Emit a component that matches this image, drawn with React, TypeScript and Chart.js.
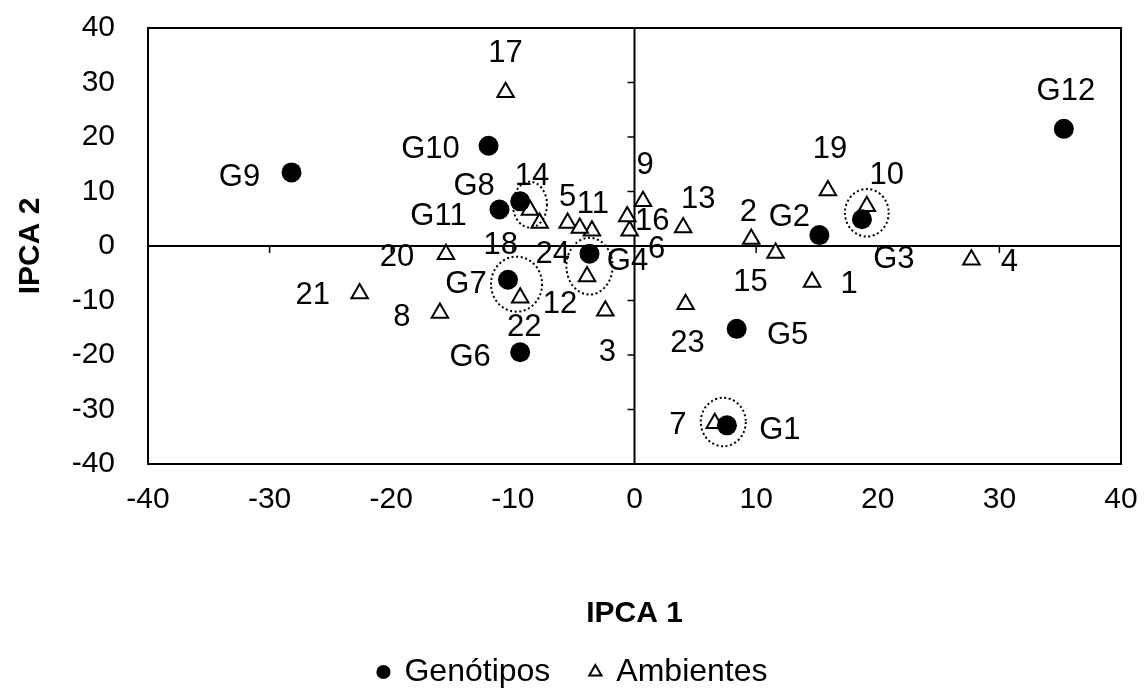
import { useEffect, useRef } from "react";
import { Chart, registerables } from "chart.js";

Chart.register(...registerables);

const FONT = "'Liberation Sans', Arial, Helvetica, sans-serif";

// ---- data ----
const tickValues = [-40, -30, -20, -10, 0, 10, 20, 30, 40];

const genotypeNames = ["G1", "G2", "G3", "G4", "G5", "G6", "G7", "G8", "G9", "G10", "G11", "G12"];
const genotypeIPCA1 = [7.6, 15.2, 18.7, -3.7, 8.4, -9.4, -10.4, -9.4, -28.2, -12.0, -11.1, 35.3];
const genotypeIPCA2 = [-32.9, 2.0, 4.9, -1.4, -15.2, -19.5, -6.2, 8.2, 13.5, 18.4, 6.7, 21.5];

const environmentNames = [
  "1", "2", "3", "4", "5", "6", "7", "8", "9", "10", "11", "12",
  "13", "14", "15", "16", "17", "18", "19", "20", "21", "22", "23", "24",
];
const environmentIPCA1 = [
  14.6, 9.6, -2.4, 27.7, -5.5, -0.4, 6.6, -16.0, 0.7, 19.1, -3.5, -3.9,
  4.0, -8.6, 11.6, -0.6, -10.6, -7.8, 15.9, -15.5, -22.6, -9.4, 4.2, -4.5,
];
const environmentIPCA2 = [
  -6.6, 1.3, -11.9, -2.5, 4.2, 2.8, -32.5, -12.3, 8.2, 7.3, 2.8, -5.6,
  3.4, 6.6, -1.3, 5.4, 28.2, 4.2, 10.2, -1.5, -8.7, -9.5, -10.7, 3.3,
];

// dotted highlight ellipses (data units): centre x, centre y, radius x, radius y
const ellipseX = [-8.6, -9.7, -3.7, 19.1, 7.3];
const ellipseY = [7.6, -7.0, -3.7, 6.1, -32.3];
const ellipseRX = [1.4, 2.1, 1.9, 1.8, 1.85];
const ellipseRY = [4.2, 5.05, 5.2, 4.35, 4.45];

// ---- label placement (pixel offsets from the marker) ----
const LABEL_SHIFT_Y = 3;
const genotypeLabelOffset: [number, number][] = [
  [53, 2], [-30, -21], [32, 37], [38, 5], [51, 4], [-50, 2],
  [-42, 2], [-46, -18], [-52, 2], [-58, 1], [-61, 4], [2, -40],
];
const environmentLabelOffset: [number, number][] = [
  [37, -1], [-3, -29], [2, 39], [38, 0], [0, -29], [27, 16],
  [-37, -1], [-38, 1], [2, -39], [20, -34], [1, -29], [-27, 25],
  [15, -31], [2, -37], [-25, 26], [25, 2], [0, -42], [-39, 19],
  [2, -44], [-49, 0], [-47, -1], [4, 27], [2, 36], [-27, 23],
];

const overlayPlugin = {
  id: "overlay",
  beforeDatasetsDraw(chart: any) {
    const { ctx, chartArea: a, scales } = chart;
    const xs = scales.x;
    const ys = scales.y;
    const x0 = xs.getPixelForValue(0);
    const y0 = ys.getPixelForValue(0);
    ctx.save();
    ctx.strokeStyle = "#000";
    ctx.lineWidth = 2;
    ctx.strokeRect(a.left, a.top, a.right - a.left, a.bottom - a.top);
    ctx.beginPath();
    ctx.moveTo(a.left, y0);
    ctx.lineTo(a.right, y0);
    ctx.moveTo(x0, a.top);
    ctx.lineTo(x0, a.bottom);
    ctx.stroke();
    ctx.lineWidth = 1.5;
    ctx.beginPath();
    for (const v of tickValues) {
      const px = xs.getPixelForValue(v);
      ctx.moveTo(px, y0);
      ctx.lineTo(px, y0 + 7);
      const py = ys.getPixelForValue(v);
      ctx.moveTo(x0 - 7, py);
      ctx.lineTo(x0, py);
    }
    ctx.stroke();
    ctx.restore();
  },
  afterDatasetsDraw(chart: any) {
    const { ctx, scales } = chart;
    const xs = scales.x;
    const ys = scales.y;
    ctx.save();
    // dotted ellipses
    ctx.strokeStyle = "#000";
    ctx.lineWidth = 2;
    ctx.setLineDash([2, 2.6]);
    for (let i = 0; i < ellipseX.length; i++) {
      const cx = xs.getPixelForValue(ellipseX[i]);
      const cy = ys.getPixelForValue(ellipseY[i]);
      const rx = Math.abs(xs.getPixelForValue(ellipseX[i] + ellipseRX[i]) - cx);
      const ry = Math.abs(ys.getPixelForValue(ellipseY[i] + ellipseRY[i]) - cy);
      ctx.beginPath();
      ctx.ellipse(cx, cy, rx, ry, 0, 0, Math.PI * 2);
      ctx.stroke();
    }
    ctx.setLineDash([]);
    // labels
    ctx.fillStyle = "#000";
    ctx.font = `31px ${FONT}`;
    ctx.textAlign = "center";
    ctx.textBaseline = "middle";
    const metaG = chart.getDatasetMeta(0);
    metaG.data.forEach((pt: any, i: number) => {
      const [dx, dy] = genotypeLabelOffset[i];
      ctx.fillText(genotypeNames[i], pt.x + dx, pt.y + dy + LABEL_SHIFT_Y);
    });
    const metaE = chart.getDatasetMeta(1);
    metaE.data.forEach((pt: any, i: number) => {
      const [dx, dy] = environmentLabelOffset[i];
      ctx.fillText(environmentNames[i], pt.x + dx, pt.y + dy + LABEL_SHIFT_Y);
    });
    ctx.restore();
  },
};

export default function App() {
  const canvasRef = useRef<HTMLCanvasElement | null>(null);

  useEffect(() => {
    if (!canvasRef.current) return;
    const genoData = genotypeIPCA1.map((v, i) => ({ x: v, y: genotypeIPCA2[i] }));
    const envData = environmentIPCA1.map((v, i) => ({ x: v, y: environmentIPCA2[i] }));

    const chart = new Chart(canvasRef.current, {
      type: "scatter",
      data: {
        datasets: [
          {
            label: "Genótipos",
            data: genoData,
            pointStyle: "circle",
            pointRadius: 10,
            pointHoverRadius: 10,
            backgroundColor: "#000",
            borderColor: "#000",
            borderWidth: 0,
          },
          {
            label: "Ambientes",
            data: envData,
            pointStyle: "triangle",
            pointRadius: 9.5,
            pointHoverRadius: 9.5,
            backgroundColor: "#fff",
            borderColor: "#000",
            borderWidth: 2,
          },
        ],
      },
      options: {
        animation: false,
        responsive: true,
        maintainAspectRatio: false,
        events: [],
        layout: { padding: { top: 28, right: 25, left: 25, bottom: -9 } },
        plugins: {
          tooltip: { enabled: false },
          legend: {
            position: "bottom",
            labels: {
              usePointStyle: true,
              boxWidth: 10,
              boxHeight: 10,
              padding: 40,
              color: "#000",
              font: { size: 32, family: FONT },
            },
          },
        },
        scales: {
          x: {
            type: "linear",
            position: "bottom",
            min: -40,
            max: 40,
            afterFit: (s: any) => {
              s.height = 152;
              s.paddingLeft = 0;
              s.paddingRight = 0;
            },
            ticks: {
              stepSize: 10,
              padding: 18,
              color: "#000",
              font: { size: 30, family: FONT },
            },
            grid: { display: false, drawTicks: false },
            border: { display: false },
            title: {
              display: true,
              text: "IPCA 1",
              color: "#000",
              font: { size: 30, weight: "bold", family: FONT },
              padding: { top: 0, bottom: -16 },
            },
          },
          y: {
            type: "linear",
            position: "left",
            min: -40,
            max: 40,
            afterFit: (s: any) => {
              s.width = 123;
              s.paddingTop = 0;
              s.paddingBottom = 0;
            },
            ticks: {
              stepSize: 10,
              padding: 33,
              color: "#000",
              font: { size: 30, family: FONT },
            },
            grid: { display: false, drawTicks: false },
            border: { display: false },
            title: {
              display: true,
              text: "IPCA 2",
              color: "#000",
              font: { size: 30, weight: "bold", family: FONT },
              padding: { top: -12, bottom: 0 },
            },
          },
        },
      },
      plugins: [overlayPlugin],
    });
    return () => chart.destroy();
  }, []);

  return (
    <div style={{ position: "absolute", left: 0, top: 0, width: 1146, height: 689, background: "#fff" }}>
      <canvas ref={canvasRef} />
    </div>
  );
}
